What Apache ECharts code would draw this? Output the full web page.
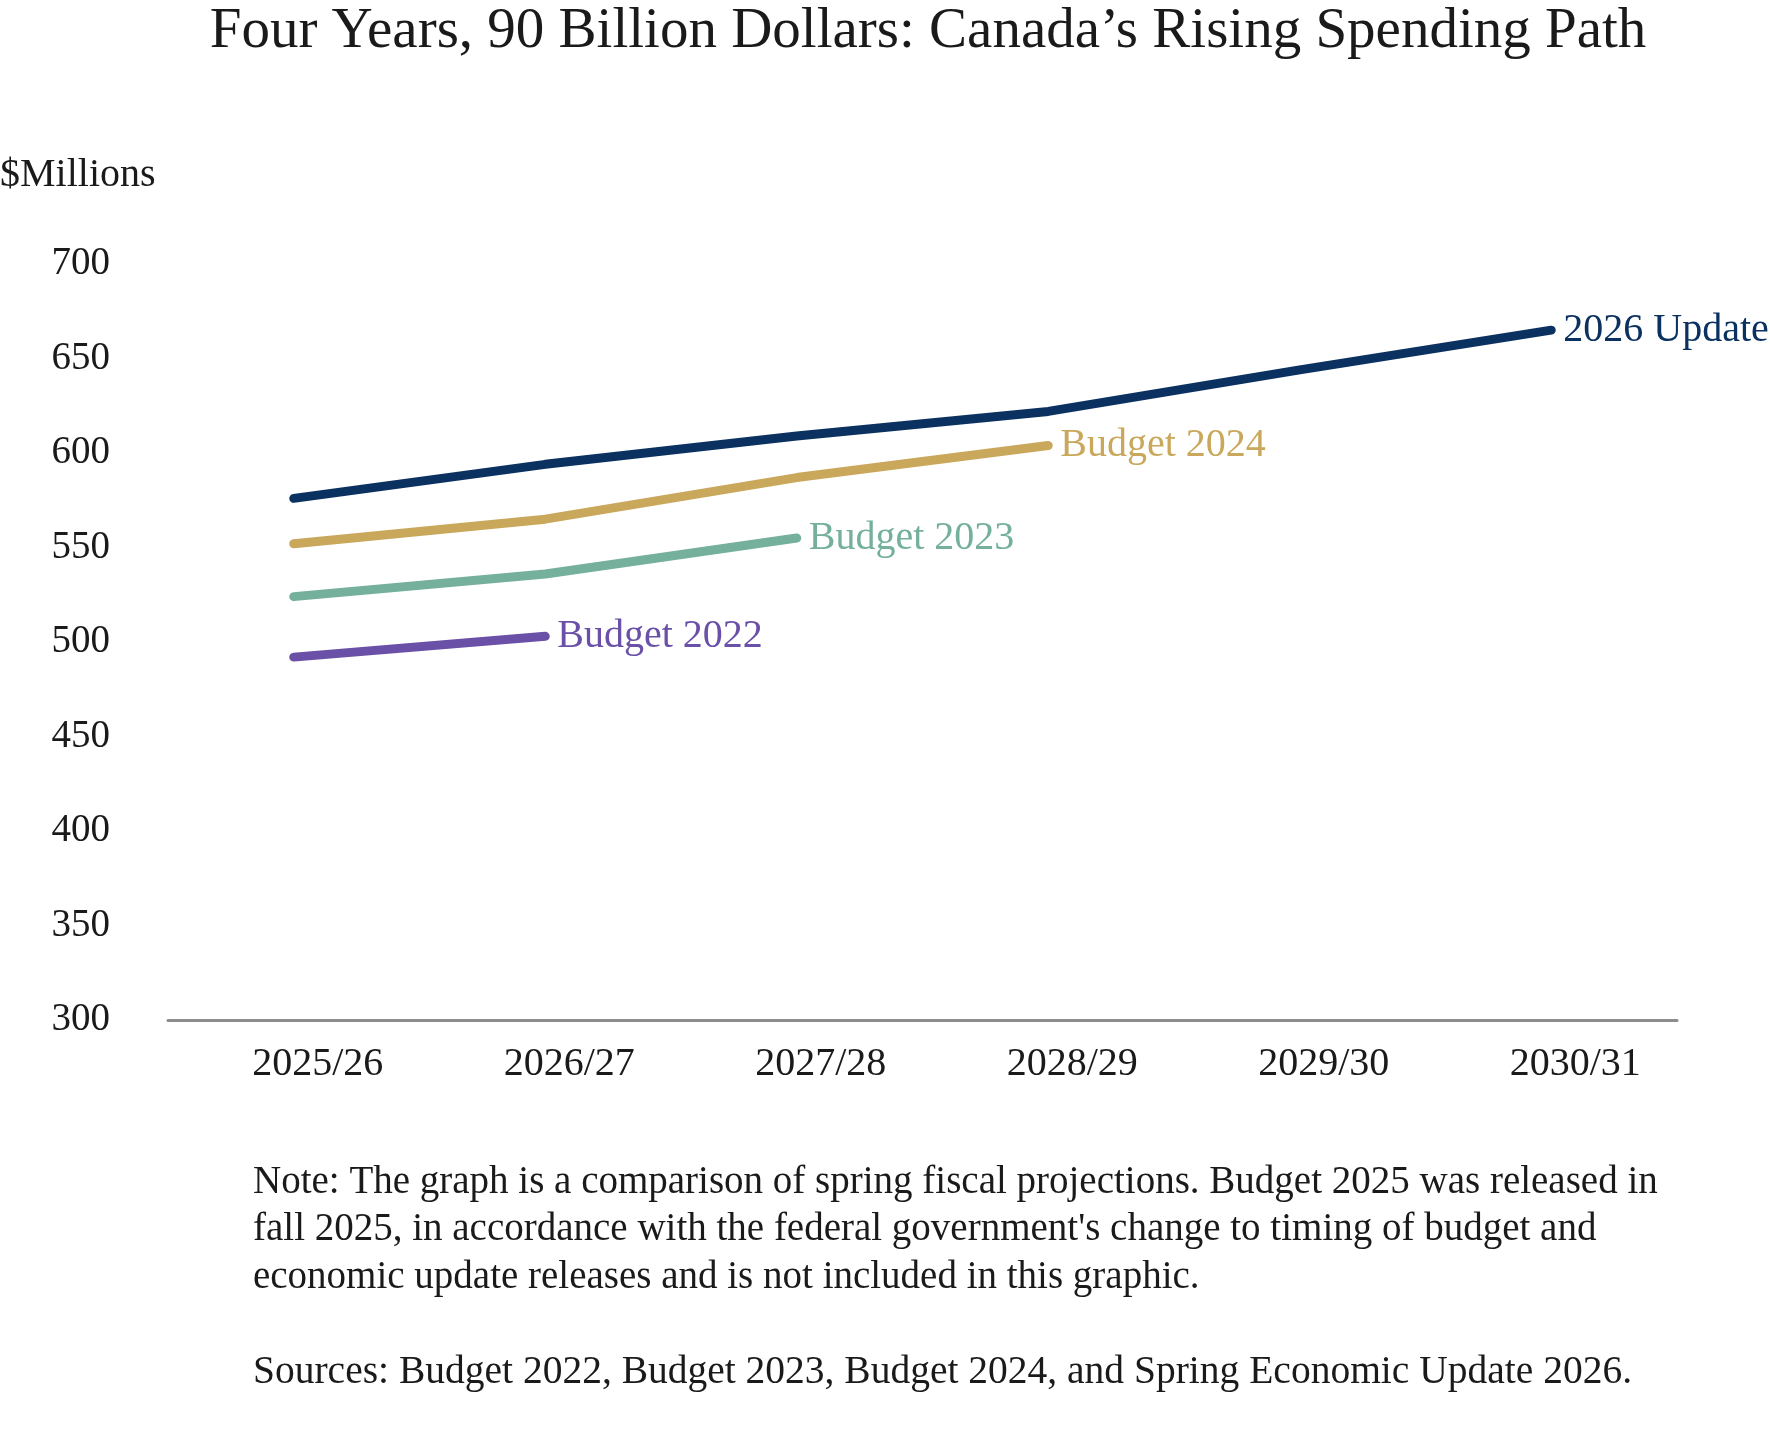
<!DOCTYPE html>
<html>
<head>
<meta charset="utf-8">
<title>Canada spending path</title>
<script src="https://cdn.jsdelivr.net/npm/echarts@6/dist/echarts.min.js"></script>
<style>
  html, body { margin: 0; padding: 0; background: #fff; }
  #chart { width: 1770px; height: 1431px; }
</style>
</head>
<body>
<div id="chart"></div>
<script>
// fiscal years on the x axis
var years = ['2025/26', '2026/27', '2027/28', '2028/29', '2029/30', '2030/31'];

// projections, $ millions
var update2026 = [576, 594, 609, 622, 644, 665];
var budget2024 = [552, 565, 587, 604];
var budget2023 = [524, 536, 555];
var budget2022 = [492, 503];

var yTicks = [300, 350, 400, 450, 500, 550, 600, 650, 700];

var noteLines = [
	'Note: The graph is a comparison of spring fiscal projections. Budget 2025 was released in',
	'fall 2025, in accordance with the federal government\'s change to timing of budget and',
	'economic update releases and is not included in this graphic.'
];
var sourceLine = 'Sources: Budget 2022, Budget 2023, Budget 2024, and Spring Economic Update 2026.';

var serif = '"Liberation Serif", "DejaVu Serif", serif';

function lineSeries(name, data, color){
	return {
		name: name,
		type: 'line',
		data: data,
		symbol: 'none',
		smooth: false,
		lineStyle: { color: color, width: 9, cap: 'round', join: 'round' },
		itemStyle: { color: color },
		endLabel: {
			show: true,
			formatter: '{a}',
			color: color,
			fontFamily: serif,
			fontSize: 40,
			distance: 12
		},
		emphasis: { disabled: true },
		z: 3
	};
}

var chart = echarts.init(document.getElementById('chart'));

var graphics = [{
	type: 'text',
	style: {
		text: 'Four Years, 90 Billion Dollars: Canada\u2019s Rising Spending Path',
		x: 928, y: 32,
		textAlign: 'center', textVerticalAlign: 'middle',
		font: '57px ' + serif, fill: '#1a1a1a'
	}
}, {
	type: 'text',
	style: {
		text: '$Millions',
		x: 0, y: 175,
		textAlign: 'left', textVerticalAlign: 'middle',
		font: '40px ' + serif, fill: '#1a1a1a'
	}
}];
var noteY = [1183, 1230, 1278];
noteLines.forEach(function(t, i){
	graphics.push({
		type: 'text',
		style: {
			text: t, x: 253, y: noteY[i],
			textAlign: 'left', textVerticalAlign: 'middle',
			font: '39px ' + serif, fill: '#1a1a1a'
		}
	});
});
graphics.push({
	type: 'text',
	style: {
		text: sourceLine, x: 253, y: 1373,
		textAlign: 'left', textVerticalAlign: 'middle',
		font: '39.5px ' + serif, fill: '#1a1a1a'
	}
});

chart.setOption({
	backgroundColor: '#ffffff',
	animation: false,
	textStyle: { fontFamily: serif },
	grid: { left: 168, right: 93, top: 264, bottom: 411 },
	xAxis: {
		type: 'category',
		data: years,
		boundaryGap: true,
		axisLine: { show: true, lineStyle: { color: '#8c8c8c', width: 3 } },
		axisTick: { show: false },
		splitLine: { show: false },
		axisLabel: {
			color: '#1a1a1a',
			fontFamily: serif,
			fontSize: 40,
			margin: 24,
			padding: [0, 0, 0, 48]
		}
	},
	yAxis: {
		type: 'value',
		min: yTicks[0],
		max: yTicks[yTicks.length - 1],
		interval: yTicks[1] - yTicks[0],
		axisLine: { show: false },
		axisTick: { show: false },
		splitLine: { show: false },
		axisLabel: {
			color: '#1a1a1a',
			fontFamily: serif,
			fontSize: 39,
			margin: 58
		}
	},
	series: [
		lineSeries('2026 Update', update2026, '#0b3160'),
		lineSeries('Budget 2024', budget2024, '#c9a85c'),
		lineSeries('Budget 2023', budget2023, '#74b09b'),
		lineSeries('Budget 2022', budget2022, '#6a50a7')
	],
	graphic: graphics
});
</script>
</body>
</html>
